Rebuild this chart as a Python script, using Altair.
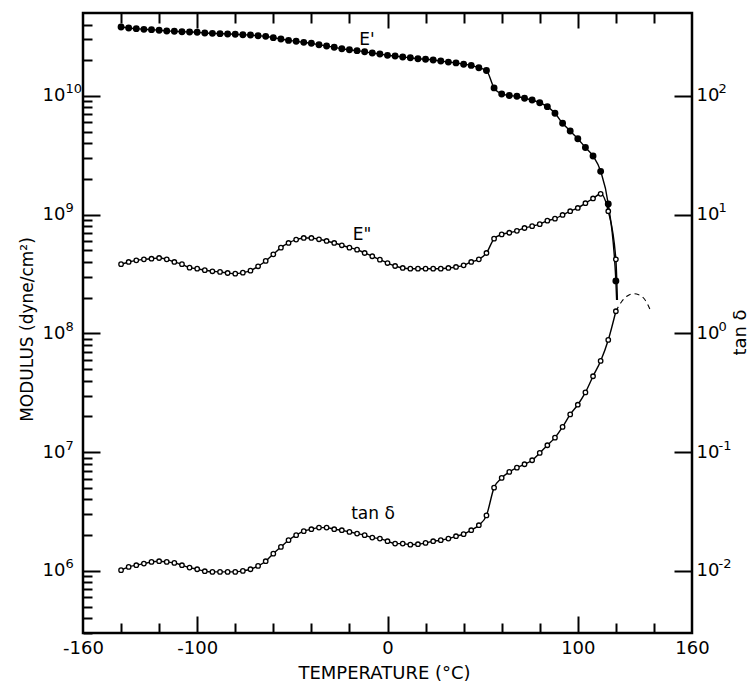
import altair as alt
import pandas as pd

# ---------------- data ----------------
temperature = [-140, -136, -132, -128, -124, -120, -116, -112, -108, -104,
               -100, -96, -92, -88, -84, -80, -76, -72, -68, -64,
               -60, -56, -52, -48, -44, -40, -36, -32, -28, -24,
               -20, -16, -12, -8, -4, 0, 4, 8, 12, 16,
               20, 24, 28, 32, 36, 40, 44, 48, 52, 56,
               60, 64, 68, 72, 76, 80, 84, 88, 92, 96,
               100, 104, 108, 112, 116, 120]

# E' (storage modulus), units of 1e10 dyne/cm2
e_storage_1e10 = [3.81, 3.74, 3.69, 3.64, 3.62, 3.58, 3.53, 3.51, 3.48, 3.46,
                  3.44, 3.39, 3.37, 3.35, 3.33, 3.31, 3.28, 3.26, 3.22, 3.18,
                  3.10, 3.02, 2.94, 2.89, 2.83, 2.78, 2.70, 2.64, 2.57, 2.50,
                  2.45, 2.41, 2.36, 2.30, 2.26, 2.20, 2.17, 2.13, 2.10, 2.06,
                  2.04, 2.01, 1.97, 1.93, 1.90, 1.85, 1.81, 1.73, 1.64, 1.17,
                  1.04, 1.01, 0.994, 0.956, 0.925, 0.876, 0.813, 0.715, 0.589, 0.507,
                  0.437, 0.368, 0.312, 0.232, 0.123, 0.0277]

# E'' (loss modulus), units of 1e8 dyne/cm2
e_loss_1e8 = [3.83, 4.00, 4.13, 4.21, 4.26, 4.32, 4.21, 4.00, 3.83, 3.58,
              3.51, 3.41, 3.34, 3.30, 3.23, 3.19, 3.25, 3.38, 3.68, 4.08,
              4.64, 5.28, 5.78, 6.17, 6.37, 6.37, 6.21, 6.01, 5.78, 5.53,
              5.28, 5.08, 4.76, 4.47, 4.18, 3.92, 3.70, 3.56, 3.51, 3.51,
              3.51, 3.51, 3.51, 3.56, 3.63, 3.75, 4.00, 4.21, 4.76, 6.28,
              6.82, 7.05, 7.32, 7.73, 8.01, 8.33, 8.91, 9.26, 9.95, 10.7,
              11.4, 12.5, 13.7, 15.0, 10.7, 4.21]

# tan delta
tan_delta = [0.01014, 0.01081, 0.01117, 0.01152, 0.01191, 0.01207, 0.01191, 0.01168, 0.01117, 0.01066,
             0.01033, 0.00994, 0.00981, 0.00981, 0.00981, 0.00981, 0.0100, 0.01033, 0.01102, 0.01207,
             0.01398, 0.01593, 0.01814, 0.0200, 0.0216, 0.02245, 0.02316, 0.02316, 0.02245, 0.02202,
             0.02131, 0.02062, 0.0200, 0.01908, 0.01871, 0.01779, 0.01698, 0.01698, 0.01665, 0.01678,
             0.01721, 0.01779, 0.01814, 0.01871, 0.0196, 0.02038, 0.02202, 0.02426, 0.02934, 0.05029,
             0.06068, 0.06818, 0.07411, 0.07915, 0.08553, 0.09856, 0.1144, 0.1326, 0.1632, 0.2079,
             0.251, 0.3186, 0.4361, 0.5866, 0.8817, 1.538]

# curve ends below the last measured points (no markers)
storage_tail_T = 120.4
storage_tail_1e10 = 0.0191
loss_tail_T = 120.8
loss_tail_1e8 = 1.91

# dashed extrapolation of tan delta
tan_dash_T = [120, 123, 126, 129, 132, 135, 138.5]
tan_dash = [1.538, 1.85, 2.07, 2.16, 2.12, 1.95, 1.52]

# curve labels
label_text = ["E'", 'E"', "tan \u03b4"]
label_T = [-10.8, -13.4, -7.6]
label_modulus = [2.96e10, 6.75e8, 3.02e6]

x_label_values = [-160, -100, 0, 100, 160]
x_major_ticks = [-100, 0, 100]
x_minor_ticks = [-140, -120, -80, -60, -40, -20, 20, 40, 60, 80, 120, 140]
y_major_ticks = [1e6, 1e7, 1e8, 1e9, 1e10]
y_minor_ticks = [m * 10.0 ** e for e in range(5, 11) for m in range(2, 10)
                 if 3e5 <= m * 10.0 ** e <= 4.5e10]
tan_major_ticks = [1e-2, 1e-1, 1.0, 1e1, 1e2]

# ---------------- tables ----------------
ep_df = pd.DataFrame({"T": temperature, "v": [e * 1e10 for e in e_storage_1e10]})
ep_line_df = pd.concat([ep_df, pd.DataFrame({"T": [storage_tail_T], "v": [storage_tail_1e10 * 1e10]})])
epp_df = pd.DataFrame({"T": temperature, "v": [e * 1e8 for e in e_loss_1e8]})
epp_line_df = pd.concat([epp_df, pd.DataFrame({"T": [loss_tail_T], "v": [loss_tail_1e8 * 1e8]})])
tan_df = pd.DataFrame({"T": temperature, "v": tan_delta})
tan_dash_df = pd.DataFrame({"T": tan_dash_T, "v": tan_dash})
lab_df = pd.DataFrame({"T": label_T, "v": label_modulus, "txt": label_text})

# ---------------- layout ----------------
W, H = 609, 620
FONT = "DejaVu Sans"
BASE_FS = 18
EXP_FS = 13
xs = alt.Scale(domain=[-160, 160], nice=False, zero=False)
ys_mod = alt.Scale(type="log", domain=[3e5, 5e10], nice=False)
ys_tan = alt.Scale(type="log", domain=[3e-3, 5e2], nice=False)
EXPONENT = "'' + round(log(datum.value)/LN10)"


def tick_axis(orient, offset, values, size):
    return alt.Axis(orient=orient, offset=offset, values=values, ticks=True,
                    tickSize=size, tickWidth=2, tickColor="black", labels=False,
                    domain=False, grid=False, title=None)


def label_axis(orient, values, expr, size, align, pad, offset=0, **kw):
    return alt.Axis(orient=orient, values=values, ticks=False, tickSize=0,
                    domain=False, grid=False, labelExpr=expr, labelFont=FONT,
                    labelFontSize=size, labelColor="black", labelAlign=align,
                    labelPadding=pad, labelOffset=offset, labelFlush=False,
                    labelOverlap=False, **kw)


x_label_axis = alt.Axis(orient="bottom", values=x_label_values, ticks=False, tickSize=0,
                        domain=False, grid=False, labelExpr="'' + datum.value",
                        labelFont=FONT, labelFontSize=18, labelColor="black",
                        labelBaseline="alphabetic", labelPadding=20, labelFlush=False,
                        labelOverlap=False,
                        title="TEMPERATURE (\u00b0C)", titleFont=FONT, titleFontSize=18,
                        titleFontWeight="normal", titleColor="black",
                        titleX=301, titleY=45, titleAlign="center", titleBaseline="alphabetic")

# left: base "10" + raised exponent
y_base_axis = label_axis("left", y_major_ticks, "'10'", BASE_FS, "right", 18,
                         title="MODULUS (dyne/cm\u00b2)", titleFont=FONT, titleFontSize=17,
                         titleFontWeight="normal", titleColor="black", titleAngle=270,
                         titleX=-51, titleY=316, titleAlign="center",
                         titleBaseline="alphabetic")
y_exp_axis = label_axis("left", y_major_ticks, EXPONENT, EXP_FS, "left", 18, -7, title=None)

# right: tan delta
tan_base_axis = label_axis("right", tan_major_ticks, "'10'", BASE_FS, "left", 4,
                           title="tan \u03b4", titleFont=FONT, titleFontSize=18,
                           titleFontWeight="normal", titleColor="black", titleAngle=270,
                           titleX=53, titleY=319, titleAlign="center",
                           titleBaseline="alphabetic")
tan_exp_axis = label_axis("right", tan_major_ticks, EXPONENT, EXP_FS, "left", 26, -7, title=None)

line_style = dict(color="black", strokeWidth=1.4, interpolate="monotone")

ep_line = alt.Chart(ep_line_df).mark_line(**line_style).encode(
    x=alt.X("T:Q", scale=xs, axis=x_label_axis),
    y=alt.Y("v:Q", scale=ys_mod, axis=y_base_axis))

epp_line = alt.Chart(epp_line_df).mark_line(**line_style).encode(
    x=alt.X("T:Q", scale=xs, axis=tick_axis("top", -H, x_minor_ticks, 10)),
    y=alt.Y("v:Q", scale=ys_mod, axis=tick_axis("right", -W, y_minor_ticks, 9)))

tan_line = alt.Chart(tan_df).mark_line(**line_style).encode(
    x=alt.X("T:Q", scale=xs, axis=tick_axis("bottom", -H, x_minor_ticks, 10)),
    y=alt.Y("v:Q", scale=ys_tan, axis=tan_base_axis))

tan_dash_line = alt.Chart(tan_dash_df).mark_line(color="black", strokeWidth=1.1,
                                                 strokeDash=[5, 4], interpolate="monotone").encode(
    x=alt.X("T:Q", scale=xs, axis=None),
    y=alt.Y("v:Q", scale=ys_tan, axis=tan_exp_axis))

ep_pts = alt.Chart(ep_df).mark_point(shape="circle", filled=True, fill="black", stroke="black",
                                     size=24, opacity=1).encode(
    x=alt.X("T:Q", scale=xs, axis=tick_axis("top", -H, x_major_ticks, 17)),
    y=alt.Y("v:Q", scale=ys_mod, axis=tick_axis("right", -W, y_major_ticks, 17)))

open_style = dict(shape="circle", filled=True, fill="white", stroke="black",
                  strokeWidth=1.3, size=20, opacity=1)

epp_pts = alt.Chart(epp_df).mark_point(**open_style).encode(
    x=alt.X("T:Q", scale=xs, axis=tick_axis("bottom", -H, x_major_ticks, 15)),
    y=alt.Y("v:Q", scale=ys_mod, axis=None))

tan_pts = alt.Chart(tan_df).mark_point(**open_style).encode(
    x=alt.X("T:Q", scale=xs, axis=None),
    y=alt.Y("v:Q", scale=ys_tan, axis=tick_axis("left", -W, tan_major_ticks, 18)))

labels = alt.Chart(lab_df).mark_text(font=FONT, fontSize=17, color="black",
                                     align="center", baseline="middle").encode(
    x=alt.X("T:Q", scale=xs, axis=None),
    y=alt.Y("v:Q", scale=ys_mod, axis=y_exp_axis),
    text="txt:N")

chart = alt.layer(ep_line, epp_line, tan_line, tan_dash_line, ep_pts, epp_pts, tan_pts, labels).resolve_scale(
    y="independent").resolve_axis(x="independent", y="independent").properties(
    width=W, height=H,
    padding={"left": 83, "top": 13, "right": 56, "bottom": 48},
    autosize=alt.AutoSizeParams(type="none"),
    background="white",
).configure_view(stroke="black", strokeWidth=2.5)

chart.save("out.html", embed_options={"renderer": "svg", "actions": False})
